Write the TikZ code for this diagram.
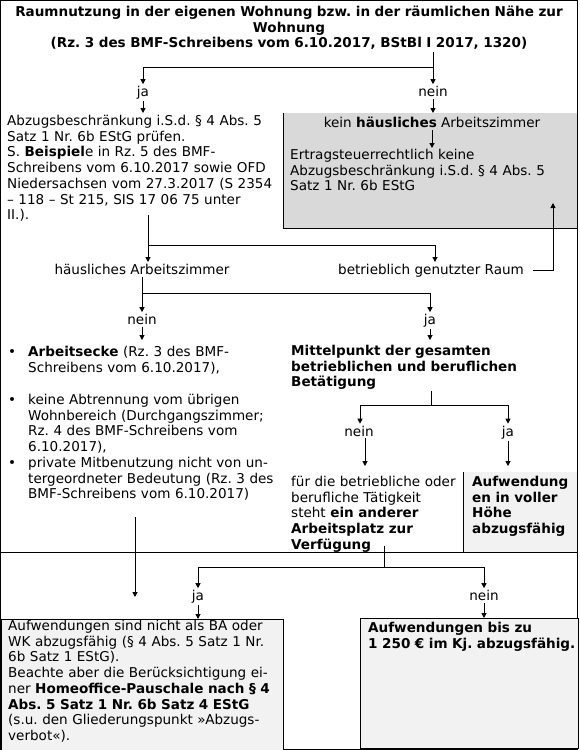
\documentclass[tikz,border=0pt]{standalone}
\usepackage{fontspec}
\setmainfont{DejaVu Sans}
\usetikzlibrary{arrows.meta}
\newcommand\myfs{\fontsize{13.55}{15.7}\selectfont\frenchspacing}
\begin{document}
\frenchspacing
\begin{tikzpicture}[x=1pt,y=-1pt,
  txt/.style={inner sep=0pt, anchor=base west, font=\myfs, align=left, text width=#1},
  txt/.default=300pt,
  lbl/.style={inner sep=0pt, outer sep=2pt, anchor=base, font=\myfs},
  arr/.style={-{Triangle[width=5pt,length=5pt]}, line width=1pt},
  ln/.style={line width=1pt},
  darkbox/.style={fill=black!15, inner sep=0pt, anchor=north west},
  lightbox/.style={fill=black!5, inner sep=0pt, anchor=north west}]
\useasboundingbox (0,0) rectangle (579,750);
% outer frame
\draw[ln] (0.5,0.5) rectangle (577.5,749.5);
\draw[ln] (0.5,552) -- (577.5,552);

% title
\node[inner sep=0pt, anchor=base, font=\myfs\bfseries, align=center, text width=575pt] (title) at (289,16.5)
 {Raumnutzung in der eigenen Wohnung bzw. in der räumlichen Nähe zur\\ Wohnung\\ (Rz. 3 des BMF-Schreibens vom 6.10.2017, BStBl I 2017, 1320)};

% level 1
\node[lbl] (ja1) at (143,96.5) {ja};
\node[lbl] (nein1) at (433,96.5) {nein};
\coordinate (t1) at (433,52);
\coordinate (j1) at (433,67);
\draw[ln] (t1) -- (j1);
\draw[arr] (j1) -| (ja1.north);
\draw[arr] (j1) -- (nein1.north);

% left text A
\node[txt] (textA) at (7,125.5)
 {Abzugsbeschränkung i.S.d. § 4 Abs. 5\\ Satz 1 Nr. 6b EStG prüfen.\\ S. \textbf{Beispiel}e in Rz. 5 des BMF-\\ Schreibens vom 6.10.2017 sowie OFD\\ Niedersachsen vom 27.3.2017 (S 2354\\ – 118 – St 215, SIS 17 06 75 unter\\ II.).};
\coordinate (aTop) at (143,113);
\draw[arr] (ja1.south) -- (aTop);

% gray box 1
\node[darkbox, minimum width=294pt, minimum height=115pt] (box1) at (283,113) {};
\draw[ln] (box1.north west) -- (box1.south west) -- (box1.south east);
\coordinate (b1Top) at (433,113);
\draw[arr] (nein1.south) -- (b1Top);
\node[lbl] (kein) at (432,127.5) {kein \textbf{häusliches} Arbeitszimmer};
\node[txt] (textB) at (290,159.5)
 {Ertragsteuerrechtlich keine\\ Abzugsbeschränkung i.S.d. § 4 Abs. 5\\ Satz 1 Nr. 6b EStG};
\coordinate (bTop) at (432,148);
\draw[arr] (kein.south) -- (bTop);

% level 2
\node[lbl] (haus) at (142,274.5) {häusliches Arbeitszimmer};
\node[lbl] (betr) at (431,274.5) {betrieblich genutzter Raum};
\coordinate (t2) at (148,215);
\coordinate (j2) at (148,245);
\coordinate (j2r) at (435,245);
\coordinate (hTop) at (148,262);
\coordinate (rTop) at (435,262);
\draw[ln] (t2) -- (j2) -- (j2r);
\draw[arr] (j2) -- (hTop);
\draw[arr] (j2r) -- (rTop);
\coordinate (r1) at (533,270);
\coordinate (b1tgt) at (553,203);
\draw[arr] (r1) -| (b1tgt);

% level 3
\node[lbl] (nein2) at (142,324.5) {nein};
\node[lbl] (ja2) at (430,324.5) {ja};
\coordinate (j3) at (142,293);
\draw[ln] (haus.south) -- (j3);
\draw[arr] (j3) -- (nein2.north);
\draw[arr] (j3) -| (ja2.north);
\coordinate (lTop) at (142,340);
\coordinate (mTop) at (430,340);
\draw[arr] (nein2.south) -- (lTop);
\draw[arr] (ja2.south) -- (mTop);

% bullet list
\node[lbl] (bul1) at (12,356.5) {•};
\node[lbl] (bul2) at (12,404.5) {•};
\node[lbl] (bul3) at (12,467.5) {•};
\node[txt] (item1) at (28,356.5) {\textbf{Arbeitsecke} (Rz. 3 des BMF-\\ Schreibens vom 6.10.2017),};
\node[txt] (item2) at (28,404.5) {keine Abtrennung vom übrigen\\ Wohnbereich (Durchgangszimmer;\\ Rz. 4 des BMF-Schreibens vom\\ 6.10.2017),};
\node[txt] (item3) at (28,467.5) {private Mitbenutzung nicht von un-\\ tergeordneter Bedeutung (Rz. 3 des\\ BMF-Schreibens vom 6.10.2017)};
\coordinate (t4) at (135,517);
\coordinate (e4) at (135,597);
\draw[arr] (t4) -- (e4);

% Mittelpunkt
\node[txt] (mitte) at (291,355.5) {\textbf{Mittelpunkt der gesamten}\\ \textbf{betrieblichen und beruflichen}\\ \textbf{Betätigung}};
\coordinate (t5) at (431,391);
\coordinate (j5) at (431,405);
\coordinate (j5l) at (360,405);
\coordinate (j5r) at (508,405);
\node[lbl] (nein3) at (359,436) {nein};
\node[lbl] (ja3) at (508,436) {ja};
\draw[ln] (t5) -- (j5);
\draw[ln] (j5l) -- (j5r);
\draw[arr] (j5l) -- (j5l |- nein3.north);
\draw[arr] (j5r) -- (ja3.north);
\coordinate (fTop) at (365,466);
\coordinate (gTop) at (508,466);
\draw[arr] (nein3.south -| fTop) -- (fTop);
\draw[arr] (ja3.south) -- (gTop);

% fuer die ...
\node[txt] (fuer) at (291,486.5) {für die betriebliche oder\\ berufliche Tätigkeit\\ steht \textbf{ein anderer}\\ \textbf{Arbeitsplatz zur}\\ \textbf{Verfügung}};

% gray box 2
\node[lightbox, minimum width=114pt, minimum height=80pt] (box2) at (463,472) {};
\draw[ln] (box2.north west) -- (box2.south west);
\node[txt] (voll) at (472,486.5) {\textbf{Aufwendung}\\ \textbf{en in voller}\\ \textbf{Höhe}\\ \textbf{abzugsfähig}};

% level 4
\coordinate (t6) at (384,546);
\coordinate (j6) at (384,567);
\coordinate (j6l) at (198,567);
\coordinate (j6r) at (484,567);
\node[lbl] (ja4) at (198,600.5) {ja};
\node[lbl] (nein4) at (484,600.5) {nein};
\draw[ln] (t6) -- (j6);
\draw[ln] (j6l) -- (j6r);
\draw[arr] (j6l) -- (ja4.north);
\draw[arr] (j6r) -- (nein4.north);

% bottom boxes
\node[lightbox, draw, line width=1pt, minimum width=282pt, minimum height=130.5pt] (box3) at (0.5,619) {};
\node[lightbox, draw, line width=1pt, minimum width=218pt, minimum height=130pt] (box4) at (359.5,618) {};
\draw[arr] (ja4.south) -- (ja4.south |- box3.north);
\draw[arr] (nein4.south) -- (nein4.south |- box4.north);
\node[txt] (textC) at (8,630.5)
 {Aufwendungen sind nicht als BA oder\\ WK abzugsfähig (§ 4 Abs. 5 Satz 1 Nr.\\ 6b Satz 1 EStG).\\ Beachte aber die Berücksichtigung ei-\\ ner \textbf{Homeoffice-Pauschale nach § 4}\\ \textbf{Abs. 5 Satz 1 Nr. 6b Satz 4 EStG}\\ (s.u. den Gliederungspunkt »Abzugs-\\ verbot«).};
\node[txt] (textD) at (368,632.5)
 {\textbf{Aufwendungen bis zu}\\ \textbf{1 250 € im Kj. abzugsfähig.}};
\end{tikzpicture}
\end{document}
